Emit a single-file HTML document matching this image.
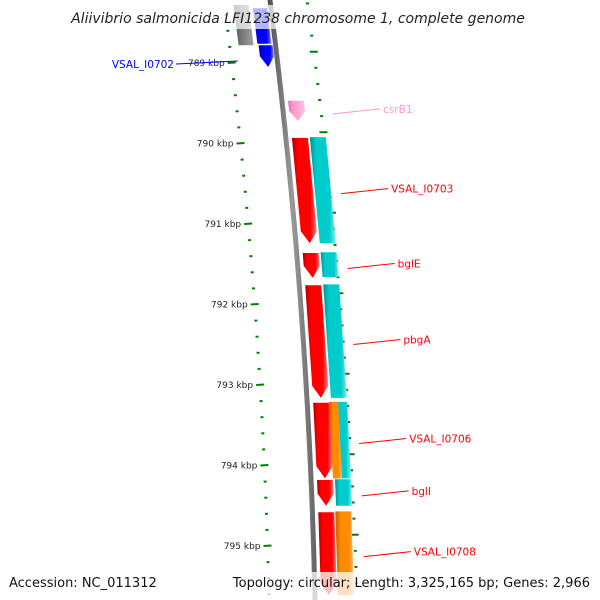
<!DOCTYPE html>
<html><head><meta charset="utf-8"><style>
body{margin:0;background:#fff}
svg{display:block;font-family:"DejaVu Sans","Liberation Sans",sans-serif}
</style></head><body>
<svg id="map" width="600" height="600" viewBox="0 0 600 600" xmlns="http://www.w3.org/2000/svg">
<defs>
<linearGradient id="gRed" x1="0" x2="1" y1="0" y2="0"><stop offset="0" stop-color="#b00000"/><stop offset="0.25" stop-color="#ff0000"/><stop offset="0.75" stop-color="#ff0000"/><stop offset="1" stop-color="#ff8080"/></linearGradient>
<linearGradient id="gCyan" x1="0" x2="1" y1="0" y2="0"><stop offset="0" stop-color="#009090"/><stop offset="0.25" stop-color="#00cccc"/><stop offset="0.75" stop-color="#00cccc"/><stop offset="1" stop-color="#80f0f0"/></linearGradient>
<linearGradient id="gOrange" x1="0" x2="1" y1="0" y2="0"><stop offset="0" stop-color="#c06000"/><stop offset="0.3" stop-color="#ff8c00"/><stop offset="0.75" stop-color="#ff8c00"/><stop offset="1" stop-color="#ffc080"/></linearGradient>
<linearGradient id="gBlue" x1="0" x2="1" y1="0" y2="0"><stop offset="0" stop-color="#0000a0"/><stop offset="0.3" stop-color="#0000ff"/><stop offset="0.75" stop-color="#0000ff"/><stop offset="1" stop-color="#8080ff"/></linearGradient>
<linearGradient id="gGray" x1="0" x2="1" y1="0" y2="0"><stop offset="0" stop-color="#404040"/><stop offset="0.3" stop-color="#707070"/><stop offset="1" stop-color="#a0a0a0"/></linearGradient>
<linearGradient id="gPink" x1="0" x2="1" y1="0" y2="0"><stop offset="0" stop-color="#e070b0"/><stop offset="0.3" stop-color="#ff99cc"/><stop offset="1" stop-color="#ffc0e0"/></linearGradient>
<linearGradient id="gBack" x1="0" x2="1" y1="0" y2="0"><stop offset="0" stop-color="#555"/><stop offset="0.5" stop-color="#999"/><stop offset="1" stop-color="#666"/></linearGradient>
</defs>
<g id="layer"></g>
<text x="298" y="23" text-anchor="middle" font-size="14" font-style="italic" fill="#222">Aliivibrio salmonicida LFI1238 chromosome 1, complete genome</text>
<text x="9" y="587" font-size="13" fill="#111">Accession: NC_011312</text>
<text x="590" y="587" text-anchor="end" font-size="13" fill="#111">Topology: circular; Length: 3,325,165 bp; Genes: 2,966</text>
</svg>
<script>
// data
const majorKbp = [789, 790, 791, 792, 793, 794, 795];
const geneNames = ["VSAL_I0702","csrB1","VSAL_I0703","bglE","pbgA","VSAL_I0706","bglI","VSAL_I0708"];
const geneStarts = [788.32, 789.47, 789.93, 791.36, 791.76, 793.22, 794.18, 794.58];
const geneEnds = [789.05, 789.72, 791.24, 791.67, 793.16, 794.16, 794.50, 795.61];
const geneTrack = ["rev","fwd","fwd","fwd","fwd","fwd","fwd","fwd"];
const geneColor = ["#0000ff","#ff99cc","#ff0000","#ff0000","#ff0000","#ff0000","#ff0000","#ff0000"];
const hitStarts = [789.92, 791.35, 791.75, 793.21, 794.17];
const hitEnds = [791.24, 791.66, 793.16, 794.16, 794.50];
const orangeStarts = [793.21, 794.57];
const orangeEnds = [794.16, 795.61];

const NS="http://www.w3.org/2000/svg";
const layer=document.getElementById('layer');
function yOf(k){return 63+(k-789)*80.5;}
function kOf(y){return 789+(y-63)/80.5;}
function bx(y){return 270+0.1275*y-8.75e-5*y*y;}
function mk(tag,attrs){const e=document.createElementNS(NS,tag);for(const a in attrs)e.setAttribute(a,attrs[a]);layer.appendChild(e);return e;}
function band(k1,k2,o1,o2,fill,arrow){
  const y1=yOf(k1),y2=yOf(k2);const pts=[];
  const ah=arrow?Math.min(12,(y2-y1)*0.5):0;
  pts.push([bx(y1)+o1,y1],[bx(y1)+o2,y1],[bx(y2-ah)+o2,y2-ah]);
  if(arrow)pts.push([bx(y2)+(o1+o2)/2,y2]);
  pts.push([bx(y2-ah)+o1,y2-ah]);
  return mk('polygon',{points:pts.map(p=>p[0].toFixed(1)+','+p[1].toFixed(1)).join(' '),fill:fill});
}
// backbone
let d='';for(let y=-5;y<=605;y+=5)d+=(y<0?'M':'L')+bx(y).toFixed(1)+','+y;
let e=mk('path',{d:d,stroke:'url(#gBack)','stroke-width':5,fill:'none'});

// outer ticks (left) and inner ticks (right)
for(let k=788.2;k<=795.8;k+=0.2){
  const kk=Math.round(k*5)/5;const major=Math.abs(kk-Math.round(kk))<0.01;
  const y=yOf(kk);const x=bx(y)-46;
  const t=mk('line',{x1:x-(major?4:1.5),y1:y,x2:x+(major?4:1.5),y2:y+(major?-0.5:0),stroke:'#008000','stroke-width':2});
  
  
  const k2=kk-0.14;const y2=yOf(k2);const x2=bx(y2)+37+y2/120;
  const t2=mk('line',{x1:x2-(major?4:1.5),y1:y2,x2:x2+(major?4:1.5),y2:y2,stroke:'#008000','stroke-width':2});
  
  
}
majorKbp.forEach(k=>{const y=yOf(k);
  const t=mk('text',{x:bx(y)-53,y:y+3,'text-anchor':'end','font-size':9,fill:'#222'});
  t.textContent=k+' kbp';
  
  
});
// gray gene (reverse, other track)
e=band(788.28,788.78,-37,-22,'url(#gGray)',false);

// hits (cyan) and orange
hitStarts.forEach((s,i)=>{const p=band(s,hitEnds[i],24,40,'url(#gCyan)',false);
  });
orangeStarts.forEach((s,i)=>{const w=i===0?[22,31]:[23,39];const p=band(s,orangeEnds[i],w[0],w[1],'url(#gOrange)',false);
  });
// genes
const grads={"#0000ff":"url(#gBlue)","#ff99cc":"url(#gPink)","#ff0000":"url(#gRed)"};
geneNames.forEach((n,i)=>{
  const o=geneTrack[i]==='rev'?[-18,-4]:[6,22];
  let p;
  if(geneTrack[i]==='rev'){
    p=band(geneStarts[i],788.76,o[0],o[1],grads[geneColor[i]],false);
    
    
    p=band(788.78,geneEnds[i],o[0]+1,o[1]+1,grads[geneColor[i]],true);
  } else p=band(geneStarts[i],geneEnds[i],o[0],o[1],grads[geneColor[i]],true);
  
  
  const ym=(yOf(geneStarts[i])+yOf(geneEnds[i]))/2;
  if(geneTrack[i]==='rev'){
    const ly=64;
    const l=mk('line',{x1:176,y1:ly,x2:bx(ly)-40,y2:ly-3,stroke:geneColor[i],'stroke-width':1});
    
    
    const t=mk('text',{x:174,y:ly+4,'text-anchor':'end','font-size':10.5,fill:geneColor[i]});
    t.textContent=n;
    
    
  } else {
    const x1=bx(ym)+50;
    const l=mk('line',{x1:x1,y1:ym+3,x2:x1+47,y2:ym-2,stroke:geneColor[i],'stroke-width':1});
    
    
    const t=mk('text',{x:x1+50,y:ym+2,'font-size':10.5,fill:geneColor[i]});
    t.textContent=n;
    
    
  }
});
// fade title band
const f=mk('rect',{x:0,y:5,width:600,height:24,fill:'#fff','fill-opacity':0.7});


const f2=mk('rect',{x:0,y:572,width:600,height:28,fill:'#fff','fill-opacity':0.75});


</script>
</body></html>
